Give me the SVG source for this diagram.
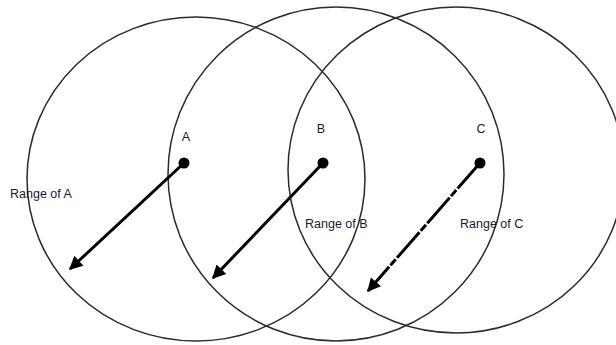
<svg xmlns="http://www.w3.org/2000/svg" width="616" height="345" viewBox="0 0 616 345">
<style>
.ring{fill:none;stroke:#2a2a2a;stroke-width:1.5}
.dot{fill:#000}
.arr{stroke:#000;stroke-width:3;fill:none;marker-end:url(#ah)}
.lbl{font-family:"Liberation Sans",Arial,sans-serif;font-size:12.5px;fill:#1a1a2e}
</style>
<defs>
<marker id="ah" viewBox="0 0 10 10" refX="9" refY="5" markerWidth="5" markerHeight="4.5" orient="auto" markerUnits="strokeWidth">
<path d="M0,0 L10,5 L0,10 z" fill="#000"/>
</marker>
</defs>
<rect width="616" height="345" fill="#fff"/>
<g id="rangeA"><ellipse class="ring" cx="196" cy="179" rx="169" ry="162"/></g>
<g id="rangeB"><ellipse class="ring" cx="336" cy="174" rx="168" ry="167"/></g>
<g id="rangeC"><ellipse class="ring" cx="456" cy="170" rx="168" ry="163"/></g>
<g id="nodeA"><circle class="dot" cx="184" cy="163" r="5.5"/><text class="lbl" x="186" y="141" text-anchor="middle">A</text></g>
<g id="nodeB"><circle class="dot" cx="323" cy="163" r="5.5"/><text class="lbl" x="321" y="133" text-anchor="middle">B</text></g>
<g id="nodeC"><circle class="dot" cx="480" cy="163" r="5.5"/><text class="lbl" x="481" y="133" text-anchor="middle">C</text></g>
<g id="labels">
<text class="lbl" x="10" y="198">Range of A</text>
<text class="lbl" x="305" y="228">Range of B</text>
<text class="lbl" x="460" y="228">Range of C</text>
</g>
<g id="connectors">
<line class="arr" x1="184" y1="163" x2="70" y2="269"/>
<line class="arr" x1="323" y1="163" x2="213" y2="278"/>
<line class="arr" x1="480" y1="163" x2="368" y2="291" stroke-dasharray="34 2 8 2"/>
</g>
</svg>
